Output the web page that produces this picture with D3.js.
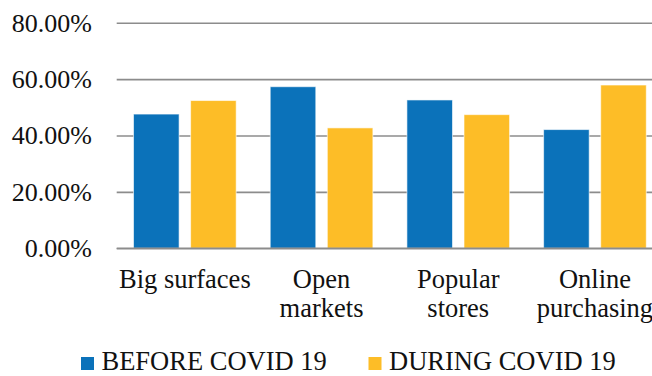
<!DOCTYPE html>
<html>
<head>
<meta charset="utf-8">
<script src="https://cdn.jsdelivr.net/npm/d3@7"></script>
<style>
  html, body { margin: 0; padding: 0; background: #fff; }
  svg { display: block; }
</style>
</head>
<body>
<svg id="chart" width="652" height="376"></svg>
<script>
// Shopping channels, share of respondents before and during COVID 19
const categories = ["Big surfaces", "Open markets", "Popular stores", "Online purchasing"];
const categoryLines = [["Big surfaces"], ["Open", "markets"], ["Popular", "stores"], ["Online", "purchasing"]];
const seriesNames = ["BEFORE COVID 19", "DURING COVID 19"];
const beforeCovid = [47.6, 57.3, 52.6, 42.1];
const duringCovid = [52.4, 42.7, 47.4, 57.9];
const yTicks = [0, 20, 40, 60, 80];
const colors = ["#0B72BA", "#FDBD27"];
const FONT = "Liberation Serif";

const svg = d3.select("#chart");

const x0 = d3.scaleBand().domain(categories).range([116.5, 663.3]).paddingInner(0).paddingOuter(0);
const x1 = d3.scaleBand().domain(seriesNames).range([0, x0.bandwidth()])
  .paddingInner(0.2018).paddingOuter(0.298);
const y = d3.scaleLinear().domain([0, 80]).range([248.3, 22.7]);

// Horizontal gridlines
const grid = svg.append("g")
  .attr("transform", "translate(116.7,0)")
  .call(d3.axisLeft(y).tickValues(yTicks).tickSize(-(652 - 116.7)).tickFormat(""));
grid.select(".domain").remove();
grid.selectAll(".tick line").attr("stroke", "#8c8c8c").attr("stroke-width", 1.6);

// Y axis labels
const yAxis = svg.append("g")
  .attr("transform", "translate(92,0)")
  .call(d3.axisLeft(y).tickValues(yTicks).tickSize(0).tickPadding(0)
    .tickFormat(d => d3.format(".2%")(d / 100)));
yAxis.select(".domain").remove();
yAxis.selectAll("text")
  .style("font-family", FONT)
  .style("font-size", "26px")
  .attr("fill", "#111");

// Bars
const rows = categories.map((c, i) => ({ cat: c, values: [beforeCovid[i], duringCovid[i]] }));
const groups = svg.append("g").selectAll("g").data(rows).join("g")
  .attr("transform", d => `translate(${x0(d.cat)},0)`);
groups.selectAll("rect")
  .data(d => d.values.map((v, k) => ({ key: seriesNames[k], value: v, k })))
  .join("rect")
  .attr("x", d => x1(d.key))
  .attr("width", x1.bandwidth())
  .attr("y", d => y(d.value))
  .attr("height", d => y(0) - y(d.value))
  .attr("fill", d => colors[d.k])
  .attr("stroke", "#ffffff")
  .attr("stroke-opacity", 0.6)
  .attr("stroke-width", 1);

// Redraw the baseline over the bars
svg.append("line")
  .attr("x1", 116.7).attr("x2", 652)
  .attr("y1", y(0)).attr("y2", y(0))
  .attr("stroke", "#8c8c8c").attr("stroke-width", 1.6);

// Category labels
const labels = svg.append("g").selectAll("text").data(categories).join("text")
  .attr("x", d => x0(d) + x0.bandwidth() / 2)
  .attr("y", 288)
  .attr("text-anchor", "middle")
  .style("font-family", FONT)
  .style("font-size", "26.5px")
  .attr("fill", "#111");
labels.selectAll("tspan")
  .data((d, i) => categoryLines[i])
  .join("tspan")
  .attr("x", function () { return d3.select(this.parentNode).attr("x"); })
  .attr("dy", (d, j) => j === 0 ? 0 : 29.3)
  .text(d => d);

// Legend
const legendX = [81, 368.5];
const legend = svg.append("g").selectAll("g").data(seriesNames).join("g")
  .attr("transform", (d, i) => `translate(${legendX[i]},0)`);
legend.append("rect")
  .attr("x", 0).attr("y", 357).attr("width", 13).attr("height", 13)
  .attr("fill", (d, i) => colors[i]);
legend.append("text")
  .attr("x", 20.5).attr("y", 370)
  .style("font-family", FONT)
  .style("font-size", "26.5px")
  .attr("fill", "#111")
  .text(d => d);
</script>
</body>
</html>
